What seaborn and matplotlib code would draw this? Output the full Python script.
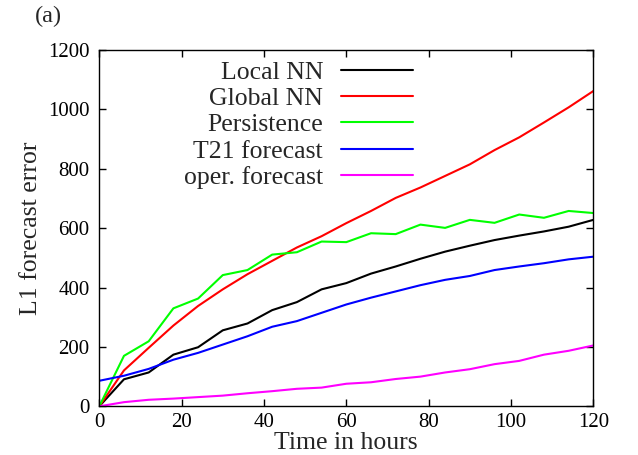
import numpy as np
import pandas as pd
import matplotlib
matplotlib.use("Agg")
import matplotlib.pyplot as plt
import seaborn as sns

# Час прогнозу (години) і похибки L1 для кожної моделі
hours = [0, 6, 12, 18, 24, 30, 36, 42, 48, 54, 60, 66, 72, 78, 84, 90, 96, 102, 108, 114, 120]
local_nn = [0, 91, 114, 174, 199, 256, 279, 324, 351, 394, 415, 447, 471, 497, 521, 541, 560, 575, 589, 605, 628]
global_nn = [0, 121, 197, 272, 338, 394, 445, 490, 535, 573, 617, 658, 702, 737, 776, 815, 863, 906, 956, 1007, 1062]
persistence = [0, 170, 219, 330, 363, 442, 459, 511, 519, 555, 553, 583, 580, 612, 601, 628, 618, 646, 635, 658, 651]
t21 = [86, 103, 126, 157, 180, 208, 236, 268, 287, 315, 343, 366, 387, 408, 426, 439, 459, 471, 482, 495, 504]
oper = [0, 14, 22, 26, 31, 36, 44, 51, 59, 63, 76, 81, 92, 100, 114, 125, 142, 153, 174, 187, 205]

names = ["Local NN", "Global NN", "Persistence", "T21 forecast", "oper. forecast"]
colors = ["#000000", "#ff0000", "#00ff00", "#0000ff", "#ff00ff"]

df = pd.DataFrame({"hours": hours, names[0]: local_nn, names[1]: global_nn,
                   names[2]: persistence, names[3]: t21, names[4]: oper})
df = df.melt(id_vars="hours", var_name="model", value_name="err")

sns.set_style("ticks")
plt.rcParams["font.family"] = ["Liberation Serif", "DejaVu Serif"]

fig = plt.figure(figsize=(6.38, 4.55), dpi=100)
ax = fig.add_axes([0.1556, 0.107, 0.7744, 0.783])

sns.lineplot(data=df, x="hours", y="err", hue="model", hue_order=names,
             palette=colors, linewidth=1.5, ax=ax, legend=False)

ax.set_xlim(0, 120)
ax.set_ylim(0, 1200)
ax.set_xticks(np.arange(0, 121, 20))
ax.set_yticks(np.arange(0, 1201, 200))
ax.tick_params(direction="in", length=5, width=1, top=True, right=True,
               labelsize=15, pad=5, colors="black")
ax.tick_params(axis="y", pad=7)
for s in ax.spines.values():
    s.set_linewidth(1)
    s.set_color("black")

ax.set_xlabel("Time in hours", fontsize=18.5, labelpad=0)
ax.set_ylabel("L1 forecast error", fontsize=18.5, labelpad=4)

handles = ax.get_lines()[:5]
ax.legend(handles, names, loc="upper right", bbox_to_anchor=(0.635, 0.97),
          frameon=False, markerfirst=False, fontsize=18.5, handlelength=2.8,
          handletextpad=0.7, labelspacing=0.13, borderpad=0, borderaxespad=0)

fig.text(0.055, 0.963, "(a)", fontsize=17.5, va="center", ha="left")

fig.savefig("out.png", dpi=100)
